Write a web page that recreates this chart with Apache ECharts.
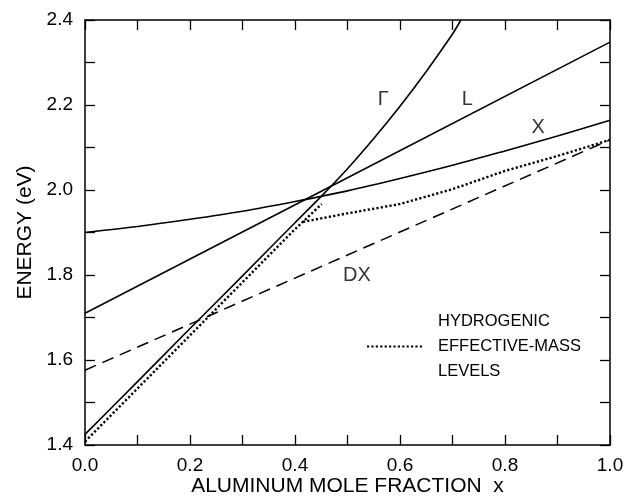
<!DOCTYPE html>
<html>
<head>
<meta charset="utf-8">
<script src="https://cdn.jsdelivr.net/npm/echarts@6/dist/echarts.min.js"></script>
<style>
  html, body { margin: 0; padding: 0; background: #fff; }
  #chart { width: 634px; height: 498px; }
</style>
</head>
<body>
<div id="chart"></div>
<script>
// aluminum mole fraction x vs energy (eV)
const gammaBand = [[0, 1.425], [0.1, 1.549], [0.2, 1.674], [0.3, 1.798], [0.4, 1.923], [0.45, 1.985],
                   [0.5, 2.05], [0.55, 2.121], [0.6, 2.197], [0.65, 2.279], [0.7, 2.367], [0.716, 2.4]];
const lBand = [[0, 1.71], [0.5, 2.029], [1.0, 2.348]];
const xBand = [[0, 1.90], [0.1, 1.914], [0.2, 1.931], [0.3, 1.950], [0.4, 1.973], [0.5, 1.998],
               [0.6, 2.027], [0.7, 2.058], [0.8, 2.092], [0.9, 2.127], [1.0, 2.164]];
const dxLevel = [[0, 1.576], [1.0, 2.118]];
const hydroGamma = [[0, 1.408], [0.1, 1.533], [0.2, 1.658], [0.3, 1.783], [0.4, 1.908], [0.451, 1.967]];
const hydroX = [[0.415, 1.925], [0.5, 1.945], [0.6, 1.967], [0.7, 2.002], [0.8, 2.045], [0.9, 2.08], [1.0, 2.118]];
const curveLabels = [
  { name: 'Γ', value: [0.568, 2.212] },
  { name: 'L', value: [0.728, 2.212] },
  { name: 'X', value: [0.863, 2.146] },
  { name: 'DX', value: [0.518, 1.80] }
];
const legendName = 'HYDROGENIC\nEFFECTIVE-MASS\nLEVELS';

const FONT = '"Liberation Sans", Arial, sans-serif';
const INK = '#000';

const myChart = echarts.init(document.getElementById('chart'));

const tickStyle = { show: true, inside: true, length: 10, lineStyle: { color: INK, width: 1.3 } };
const lineAxis = { show: true, onZero: false, lineStyle: { color: INK, width: 1.5 } };
const evenLabel = (v) => (Math.round(v * 10) % 2 === 0 ? v.toFixed(1) : '');

const solid = (data, smooth) => ({
  type: 'line', data: data, symbol: 'none', smooth: smooth, silent: true,
  lineStyle: { color: INK, width: 1.6 }
});

const option = {
  animation: false,
  grid: { left: 85, right: 24, top: 20, bottom: 53, outerBoundsMode: 'none', containLabel: false },
  xAxis: [
    {
      type: 'value', min: 0, max: 1, interval: 0.1, position: 'bottom',
      axisLine: lineAxis, axisTick: tickStyle, splitLine: { show: false },
      axisLabel: { formatter: evenLabel, color: INK, fontSize: 19, fontFamily: FONT, margin: 11 },
      name: 'ALUMINUM MOLE FRACTION  x', nameLocation: 'middle', nameGap: 31,
      nameMoveOverlap: false,
      nameTextStyle: { color: INK, fontSize: 21, fontFamily: FONT }
    },
    {
      type: 'value', min: 0, max: 1, interval: 0.1, position: 'top',
      axisLine: lineAxis, axisTick: tickStyle, splitLine: { show: false },
      axisLabel: { show: false }
    }
  ],
  yAxis: [
    {
      type: 'value', min: 1.4, max: 2.4, interval: 0.1, position: 'left',
      axisLine: lineAxis, axisTick: tickStyle, splitLine: { show: false },
      axisLabel: { formatter: evenLabel, color: INK, fontSize: 19, fontFamily: FONT, margin: 12 },
      name: 'ENERGY (eV)', nameLocation: 'middle', nameGap: 49,
      nameMoveOverlap: false,
      nameTextStyle: { color: INK, fontSize: 21, fontFamily: FONT }
    },
    {
      type: 'value', min: 1.4, max: 2.4, interval: 0.1, position: 'right',
      axisLine: lineAxis, axisTick: tickStyle, splitLine: { show: false },
      axisLabel: { show: false }
    }
  ],
  legend: {
    data: [legendName],
    left: 361, top: 304,
    itemWidth: 56, itemHeight: 10,
    selectedMode: false,
    itemStyle: { opacity: 0 },
    textStyle: { color: INK, fontSize: 16.5, fontFamily: FONT, lineHeight: 25, padding: [0, 0, 0, 10] }
  },
  series: [
    Object.assign(solid(gammaBand, 0.3), { name: 'Γ' }),
    Object.assign(solid(lBand, false), { name: 'L' }),
    Object.assign(solid(xBand, 0.3), { name: 'X' }),
    {
      name: 'DX', type: 'line', data: dxLevel, symbol: 'none', silent: true,
      lineStyle: { color: INK, width: 1.5, type: [12, 7] }
    },
    {
      name: legendName, type: 'line', data: hydroGamma, symbol: 'none', silent: true,
      itemStyle: { color: INK },
      lineStyle: { color: INK, width: 2.4, type: [2.2, 2.2] }
    },
    {
      name: legendName, type: 'line', data: hydroX, symbol: 'none', silent: true,
      itemStyle: { color: INK },
      lineStyle: { color: INK, width: 2.4, type: [2.2, 2.2] }
    },
    {
      name: 'labels', type: 'scatter', data: curveLabels, symbolSize: 0, silent: true,
      label: { show: true, position: 'inside', formatter: '{b}', color: INK, fontSize: 20, fontFamily: FONT }
    }
  ]
};

myChart.setOption(option);
</script>
</body>
</html>
